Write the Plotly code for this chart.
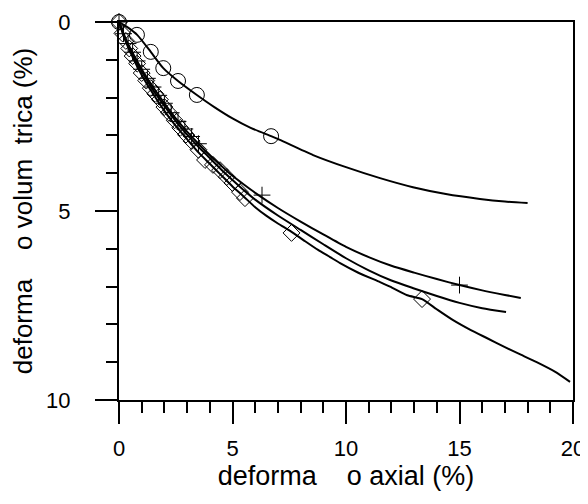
import plotly.graph_objects as go

# ---- data ----
# circle series: fitted line and measured markers
circ_line_x = [0, 0.4, 0.8, 1.4, 1.95, 2.6, 3.43, 4.2, 5.0, 5.8, 6.7, 7.09, 8.55, 10.0, 11.5, 12.95, 14.4, 15.9, 17.0, 18.0]
circ_line_y = [0, 0.15, 0.34, 0.79, 1.22, 1.56, 1.93, 2.25, 2.55, 2.8, 3.02, 3.12, 3.52, 3.84, 4.13, 4.37, 4.55, 4.68, 4.75, 4.79]
circ_mark_x = [0, 0.79, 1.4, 1.95, 2.6, 3.43, 6.7]
circ_mark_y = [0, 0.34, 0.79, 1.22, 1.56, 1.93, 3.02]

# plus series
plus_line_x = [0, 0.25, 0.5, 1, 1.5, 2, 2.5, 3, 3.5, 4, 4.5, 5, 5.5, 6, 7, 8, 9, 10, 11, 12, 13, 14, 15, 16, 17, 17.7]
plus_line_y = [0, 0.38, 0.7, 1.25, 1.72, 2.15, 2.55, 2.9, 3.22, 3.52, 3.8, 4.07, 4.3, 4.52, 4.92, 5.28, 5.62, 5.95, 6.22, 6.45, 6.63, 6.8, 6.96, 7.1, 7.22, 7.3]
plus_mark_x = [0, 0.2, 0.4, 0.6, 0.8, 1.0, 1.25, 1.5, 1.75, 2.0, 2.3, 2.6, 2.9, 3.2, 3.5, 6.3, 15.0]
plus_mark_y = [0, 0.31, 0.57, 0.8, 1.03, 1.25, 1.49, 1.72, 1.94, 2.15, 2.4, 2.63, 2.83, 3.03, 3.22, 4.58, 6.96]

# middle curve
mid_line_x = [0, 0.25, 0.5, 1, 1.5, 2, 2.5, 3, 3.5, 4, 4.5, 5, 5.5, 6, 7, 8, 9, 10, 11, 12, 13, 14, 15, 16, 17.05]
mid_line_y = [0, 0.4, 0.75, 1.3, 1.8, 2.22, 2.62, 2.98, 3.3, 3.6, 3.9, 4.18, 4.45, 4.7, 5.12, 5.5, 5.88, 6.25, 6.57, 6.84, 7.05, 7.25, 7.43, 7.57, 7.67]

# diamond series
diam_line_x = [0, 0.25, 0.5, 1, 1.5, 2, 2.5, 3, 3.5, 4, 4.5, 5, 5.5, 6, 6.5, 7, 7.6, 8.2, 8.77, 9.3, 9.74, 10.5, 11.5, 11.94, 12.7, 13.35, 14.0, 14.7, 15.5, 16.2, 17.0, 17.7, 18.4, 19.2, 19.87]
diam_line_y = [0, 0.45, 0.8, 1.4, 1.9, 2.35, 2.75, 3.1, 3.45, 3.75, 4.05, 4.35, 4.62, 4.9, 5.13, 5.33, 5.55, 5.8, 6.03, 6.22, 6.38, 6.62, 6.88, 7.0, 7.23, 7.33, 7.6, 7.88, 8.15, 8.36, 8.6, 8.8, 9.0, 9.25, 9.52]
diam_mark_x = [0, 0.15, 0.3, 0.45, 0.6, 0.8, 1.0, 1.2, 1.4, 1.6, 1.8, 2.0, 2.2, 2.45, 2.7, 2.95, 3.2, 3.5, 3.79, 4.14, 4.45, 4.75, 5.0, 5.33, 5.55, 7.6, 13.35]
diam_mark_y = [0, 0.3, 0.5, 0.7, 0.9, 1.1, 1.35, 1.55, 1.75, 1.9, 2.05, 2.25, 2.4, 2.6, 2.8, 2.98, 3.15, 3.38, 3.65, 3.78, 3.92, 4.1, 4.26, 4.5, 4.66, 5.58, 7.33]

x_title = "deforma\u00a0\u00a0\u00a0\u00a0o axial (%)"
y_title = "deforma\u00a0\u00a0\u00a0\u00a0o volum\u00a0\u00a0trica (%)"

FONT = "Liberation Sans, Arial, sans-serif"

fig = go.Figure()

def line(x, y):
    fig.add_trace(go.Scatter(x=x, y=y, mode="lines", line=dict(color="black", width=2, shape="spline", smoothing=0.6),
                             showlegend=False, hoverinfo="skip", cliponaxis=False))

def marks(x, y, symbol, size):
    fig.add_trace(go.Scatter(x=x, y=y, mode="markers",
                             marker=dict(symbol=symbol, size=size, color="black",
                                         line=dict(color="black", width=1)),
                             showlegend=False, cliponaxis=False))

line(diam_line_x, diam_line_y)
line(mid_line_x, mid_line_y)
line(plus_line_x, plus_line_y)
line(circ_line_x, circ_line_y)
marks(diam_mark_x, diam_mark_y, "diamond-open", 13)
marks(plus_mark_x, plus_mark_y, "cross-thin-open", 12)
marks(circ_mark_x, circ_mark_y, "circle-open", 15)

axis_common = dict(
    showline=True, linecolor="black", linewidth=2, mirror=True,
    ticks="outside", ticklen=22, tickwidth=2, tickcolor="black",
    showgrid=False, zeroline=False,
    tickfont=dict(family=FONT, size=22, color="black"),
    minor=dict(dtick=1, ticks="outside", ticklen=11, tickwidth=2, tickcolor="black", showgrid=False),
    automargin=False,
)

fig.update_xaxes(range=[0, 20], tick0=0, dtick=5, ticklabelstandoff=6,
                 title=dict(text=x_title, font=dict(family=FONT, size=27, color="black"), standoff=1),
                 **axis_common)
fig.update_yaxes(range=[10, 0], tick0=0, dtick=5, ticklabelstandoff=20,
                 title=dict(text=y_title, font=dict(family=FONT, size=26, color="black"), standoff=10),
                 **axis_common)

# the page adds an 8 px body margin, so the figure is sized to fit the window
fig.update_layout(width=580, height=496, margin=dict(l=111, r=15, t=14, b=104),
                  paper_bgcolor="white", plot_bgcolor="white",
                  font=dict(family=FONT, color="black"))

fig.write_html("out.html")
